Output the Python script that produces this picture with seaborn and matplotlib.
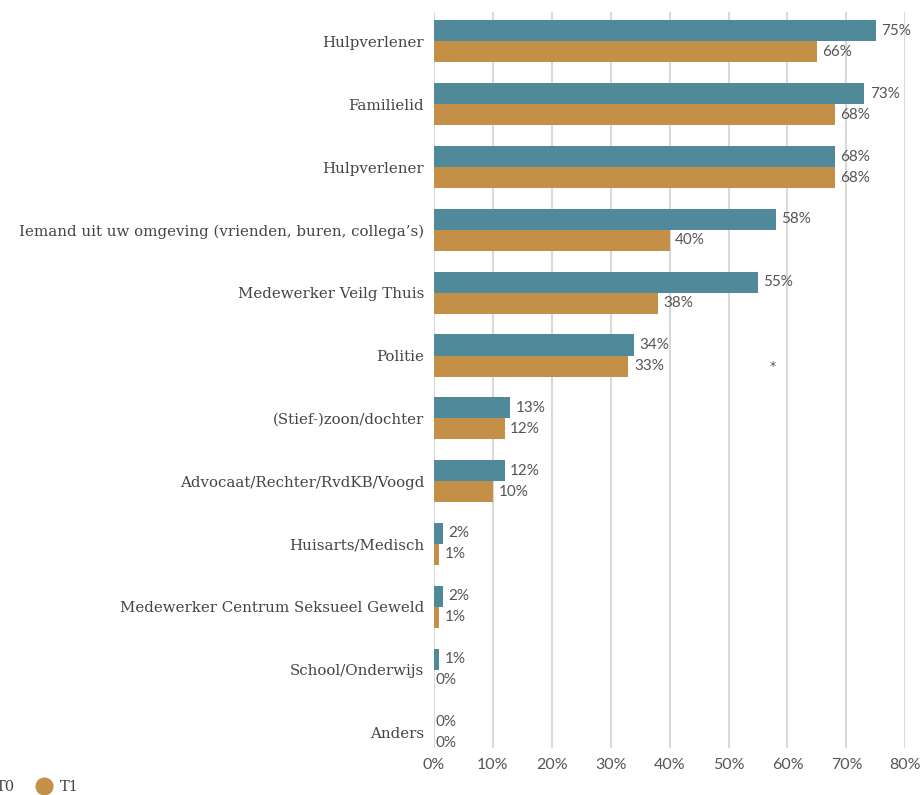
import pandas as pd
import matplotlib.pyplot as plt
import seaborn as sns
from matplotlib.lines import Line2D

# categorieen (Hulpverlener komt twee keer voor, dus eigen code per rij)
categories = ["Hulpverlener", "Familielid", "Hulpverlener",
              "Iemand uit uw omgeving (vrienden, buren, collega’s)",
              "Medewerker Veilg Thuis", "Politie", "(Stief-)zoon/dochter",
              "Advocaat/Rechter/RvdKB/Voogd", "Huisarts/Medisch",
              "Medewerker Centrum Seksueel Geweld", "School/Onderwijs", "Anders"]
t0_values = [75, 73, 68, 58, 55, 34, 13, 12, 1.6, 1.6, 0.9, 0]
t1_values = [65, 68, 68, 40, 38, 33, 12, 10, 0.9, 0.9, 0, 0]
t0_labels = ["75%", "73%", "68%", "58%", "55%", "34%", "13%", "12%", "2%", "2%", "1%", "0%"]
t1_labels = ["66%", "68%", "68%", "40%", "38%", "33%", "12%", "10%", "1%", "1%", "0%", "0%"]
series = ["T0", "T1"]
colors = ["#508A9A", "#C49048"]
x_ticks = [0, 10, 20, 30, 40, 50, 60, 70, 80]

codes = [f"c{i}" for i in range(len(categories))]
df = pd.DataFrame({
    "code": codes * 2,
    "waarde": t0_values + t1_values,
    "meting": ["T0"] * len(codes) + ["T1"] * len(codes),
})

sns.set_style("white")
fig = plt.figure(figsize=(9.21, 7.95), dpi=100)
ax = fig.add_axes([0.471, 0.059, 0.512, 0.926])

sns.barplot(data=df, y="code", x="waarde", hue="meting", order=codes,
            hue_order=series, palette=colors, orient="h", width=0.67,
            saturation=1, legend=False, linewidth=0, ax=ax)

ax.set_xlim(0, 80)
ax.set_ylim(11.25, -0.47)
ax.set_xticks(x_ticks)
ax.set_xticklabels([f"{t}%" for t in x_ticks], family="Lato", fontsize=11.5, color="#555555")
ax.set_yticks(range(len(categories)))
ax.set_yticklabels(categories, family="DejaVu Serif", fontsize=10.8, color="#444444")
ax.set_xlabel("")
ax.set_ylabel("")
ax.tick_params(axis="both", length=0, pad=7)
ax.grid(axis="x", color="#d9d9d9", linewidth=1.5)
ax.set_axisbelow(True)
for s in ax.spines.values():
    s.set_visible(False)

# waardelabels
for cont, labels in zip(ax.containers, [t0_labels, t1_labels]):
    for bar, lab in zip(cont, labels):
        x = bar.get_width()
        y = bar.get_y() + bar.get_height() / 2
        ax.annotate(lab, (x, y), xytext=(4 if x > 0 else 1, 0), textcoords="offset points",
                    va="center", ha="left", family="Lato", fontsize=11, color="#555555")

# sterretje bij Politie
ax.text(57.5, 5 + 0.17, "*", ha="center", va="center", fontsize=9, color="#555555")

handles = [Line2D([], [], marker="o", linestyle="", markersize=12, color=c) for c in colors]
fig.legend(handles, series, loc="center left", bbox_to_anchor=(-0.052, 0.01), ncol=2,
           frameon=False, handletextpad=0.1, columnspacing=1.0,
           prop={"family": "DejaVu Serif", "size": 10.5}, labelcolor="#444444")

fig.savefig("out.png", dpi=100)
